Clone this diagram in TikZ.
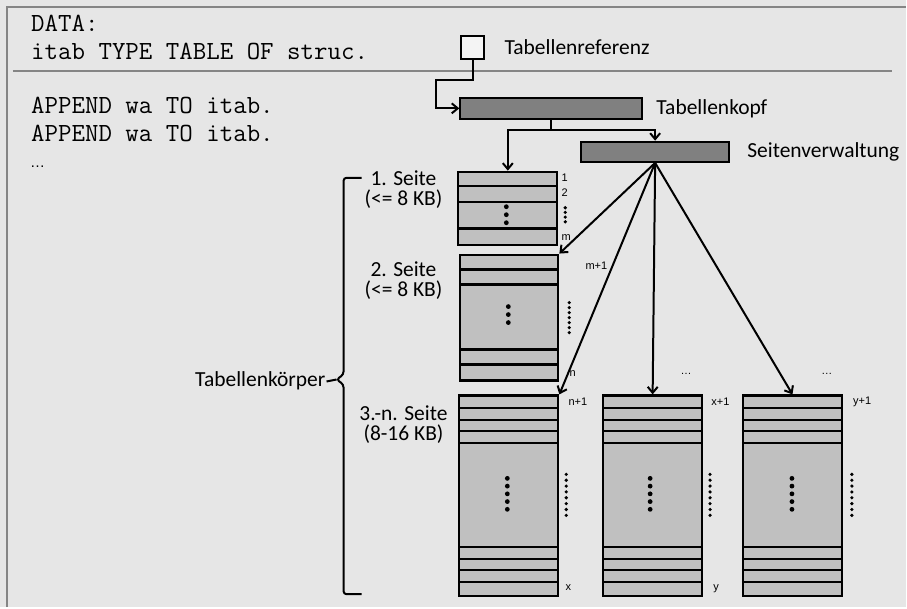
\documentclass[tikz,border=0pt]{standalone}
\usepackage{fontspec}
\setmainfont{Carlito}
\newfontfamily\numfont{Liberation Sans}
\usetikzlibrary{arrows.meta,positioning,calc}

\definecolor{bgcol}{HTML}{E6E6E6}
\definecolor{framecol}{HTML}{858585}
\definecolor{rowcol}{HTML}{C0C0C0}
\definecolor{headcol}{HTML}{808080}
\definecolor{refcol}{HTML}{F4F4F4}

% horizontal row lines inside a page node, offsets measured from its top
\newcommand{\pagerows}[2]{%
	\foreach \r in {#2}
		\draw[line width=2.2pt] ([yshift=-\r pt]#1.north west) -- ([yshift=-\r pt]#1.north east);}

\begin{document}
\begin{tikzpicture}[x=1pt,y=-1pt,>={Straight Barb[length=6pt,width=10pt]},
						block/.style={
							rectangle,
							draw=black, line width=2.2pt,
							fill=headcol,
							inner sep=0pt
						},
						pagebox/.style={
							rectangle,
							draw=black, line width=2.2pt,
							fill=rowcol,
							inner sep=0pt
						},
						lbl/.style={font=\fontsize{21.5}{20}\selectfont, inner sep=0pt},
						code/.style={font=\ttfamily\fontsize{26.2}{28}\selectfont, inner sep=0pt, anchor=base west},
						numlbl/.style={font=\numfont\fontsize{11}{13}\selectfont, inner sep=0pt, anchor=west},
						link/.style={->, line width=2pt}]

	%% Background and frame
	\fill[bgcol] (0,0) rectangle (907,608);
	\draw[framecol, line width=2.4pt] (7,608) -- (7,7) -- (907,7);
	\draw[framecol, line width=2.4pt] (13,71) -- (893,71);

	%% ABAP code
	\node[code] (data) at (31,32) {DATA:};
	\node[code] (itab) at (31,60) {itab TYPE TABLE OF struc.};
	\node[code] (append1) at (31,113.5) {APPEND wa TO itab.};
	\node[code] (append2) at (31,141.5) {APPEND wa TO itab.};
	\node[anchor=base west, inner sep=0pt, font=\numfont\fontsize{15}{17}\selectfont] (more) at (30,168) {…};

	%% Reference, header and page management
	\node[rectangle, draw=black, line width=2.2pt, fill=refcol, minimum size=23pt, inner sep=0pt] (tabref) at (473.5,47.5) {};
	\node[lbl, right=19pt of tabref] {Tabellenreferenz};

	\node[block, minimum width=182pt, minimum height=21pt] (kopf) at (552,108.5) {};
	\node[lbl, right=13pt of kopf] {Tabellenkopf};

	\node[block, minimum width=148pt, minimum height=20pt] (verwaltung) at (656,152) {};
	\node[lbl, right=17pt of verwaltung] {Seitenverwaltung};

	%% Pages
	\node[pagebox, minimum width=99pt, minimum height=73pt] (seite1) at (508.5,208.5) {};
	\node[pagebox, minimum width=98pt, minimum height=126pt] (seite2) at (510,318) {};
	\node[pagebox, minimum width=99pt, minimum height=201pt] (seiten) at (509.5,496.5) {};
	\node[pagebox, minimum width=99pt, minimum height=201pt] (seitex) at (653.5,496.5) {};
	\node[pagebox, minimum width=99pt, minimum height=201pt] (seitey) at (793.5,496.5) {};

	\pagerows{seite1}{15,31,58}
	\pagerows{seite2}{16,31,96,111}
	\foreach \p in {seiten,seitex,seitey} {
		\pagerows{\p}{14,26,37,49,153,165,176,188}
	}

	%% Dots inside and beside the pages
	\foreach \i in {0,...,2} {
		\fill (507,207+8*\i) circle (2.4pt);
		\fill (509,307+8*\i) circle (2.4pt);
	}
	\foreach \i in {0,...,3}
		\fill (566,208+4.7*\i) circle (1.8pt);
	\foreach \i in {0,...,6}
		\fill (570,303+5*\i) circle (1.8pt);
	\foreach \cx/\rx in {508/567, 651/711, 793/853} {
		\foreach \i in {0,...,4}
			\fill (\cx,479+7.75*\i) circle (2.4pt);
		\foreach \i in {0,...,7}
			\fill (\rx,475+5.86*\i) circle (1.8pt);
	}

	%% Row numbers
	\node[numlbl] at ([xshift=3pt,yshift=-7pt]seite1.north east) {1};
	\node[numlbl] at ([xshift=3pt,yshift=-22pt]seite1.north east) {2};
	\node[numlbl] at ([xshift=3pt,yshift=8pt]seite1.south east) {m};
	\node[numlbl] at ([xshift=26pt,yshift=-12pt]seite2.north east) {m+1};
	\node[numlbl] at ([xshift=10pt,yshift=8pt]seite2.south east) {n};
	\node[numlbl] at ([xshift=9pt,yshift=-7pt]seiten.north east) {n+1};
	\node[numlbl] at ([xshift=6pt,yshift=10pt]seiten.south east) {x};
	\node[numlbl] at ([xshift=8pt,yshift=-7pt]seitex.north east) {x+1};
	\node[numlbl] at ([xshift=10pt,yshift=9pt]seitex.south east) {y};
	\node[numlbl] at ([xshift=10pt,yshift=-7pt]seitey.north east) {y+1};
	\node[numlbl, anchor=center] at (687,374) {…};
	\node[numlbl, anchor=center] at (828,374) {…};

	%% Page labels
	\node[lbl, align=center] at (404,190) {1. Seite\\(<= 8 KB)};
	\node[lbl, align=center] at (404,281) {2. Seite\\(<= 8 KB)};
	\node[lbl, align=center] at (404,425) {3.-n. Seite\\(8-16 KB)};

	%% Brace round the table body
	\coordinate (bracetip) at (337,380);
	\draw[line width=2pt, rounded corners=3pt] (362,178) -- (344,178) -- (344,375)
		-- (bracetip) -- (344,385) -- (344,595) -- (362,595);
	\node[lbl, anchor=east] (koerper) at (326,381) {Tabellenkörper};
	\draw[line width=2pt] (koerper.east) ++(1pt,-1pt) -- (bracetip);

	%% Connectors
	\draw[link] (tabref.south) -- ++(0,20) -| ([xshift=-23pt]kopf.west) -- (kopf.west);
	\draw[link] (kopf.south) -- ++(0,10) -| (seite1.north);
	\draw[link] (kopf.south) -- ++(0,10) -| (verwaltung.north);
	\draw[link] (verwaltung.south) -- (seite2.north east);
	\draw[link] (verwaltung.south) -- (seiten.north east);
	\draw[link] (verwaltung.south) -- (seitex.north);
	\draw[link] (verwaltung.south) -- (seitey.north);
\end{tikzpicture}
\end{document}
